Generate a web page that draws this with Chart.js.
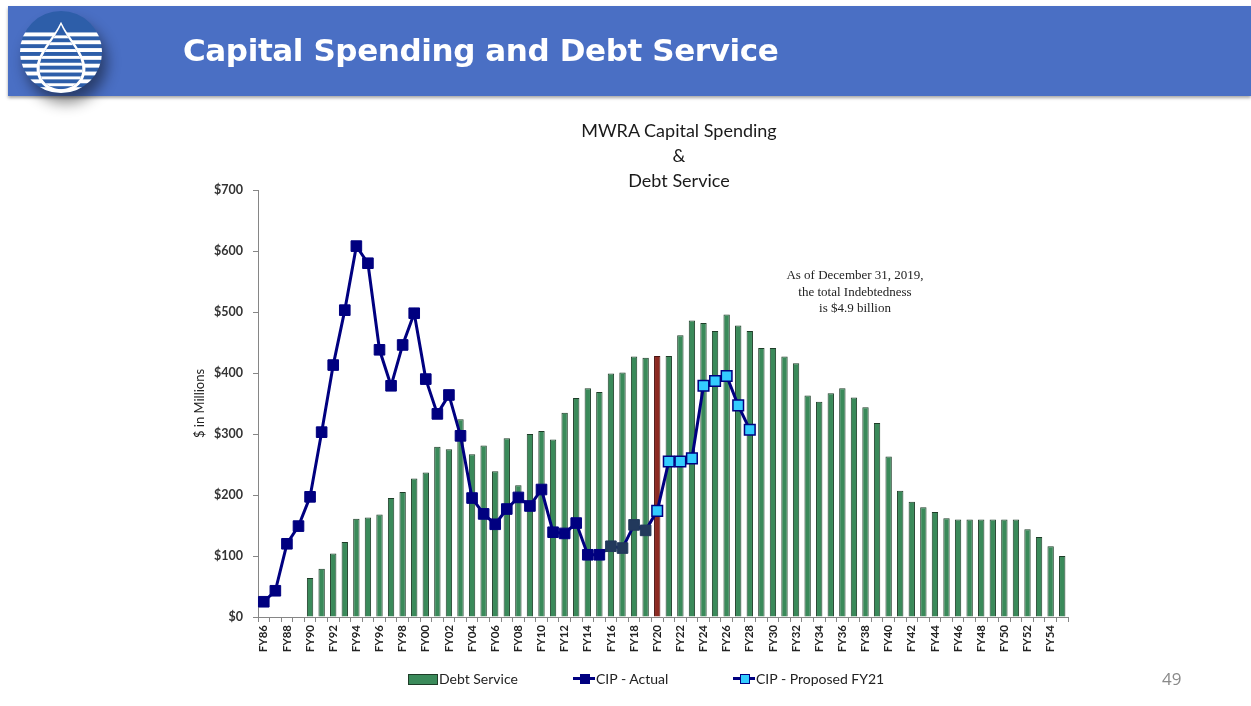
<!DOCTYPE html>
<html lang="en">
<head>
<meta charset="UTF-8">
<title>Capital Spending and Debt Service</title>
<style>
body { margin:0; padding:0; background:#fff; font-family: Lato, Arial, sans-serif; overflow:hidden; }
#slide { position:relative; width:1251px; height:706px; }
#chart { position:absolute; left:0; top:0; }
header { position:absolute; left:8px; top:6px; width:1243px; height:90px; background:#4a6fc4; box-shadow:0 2px 3px rgba(0,0,0,0.35); }
header h1 { position:absolute; left:175px; top:0; margin:0; color:#fff; font:bold 31px "DejaVu Sans", Verdana, sans-serif; line-height:88px; letter-spacing:-0.4px; }
#logo { position:absolute; left:10px; top:3px; filter: drop-shadow(5px 10px 7px rgba(0,0,0,0.45)); }
.ctitle { position:absolute; left:569px; width:220px; top:118px; text-align:center; font-size:18px; line-height:25px; color:#1a1a1a; }
.note { position:absolute; left:765px; width:180px; top:267px; text-align:center; font:13px "Liberation Serif", "Times New Roman", serif; line-height:16.5px; color:#222; }
.legend { position:absolute; top:670px; font-size:14px; color:#222; line-height:18px; }
.swatch { position:absolute; top:4px; left:0; width:28px; height:9px; background:#3a8a5a; border:1px solid #1e3d28; }
.lline { position:absolute; top:7px; left:0; width:22px; height:3px; background:#000080; }
.lmark { position:absolute; top:4px; width:8px; height:8px; border:1px solid #000080; }
.pagenum { position:absolute; left:1162px; top:667px; font:17px "Open Sans", sans-serif; color:#8a8a8a; }
</style>
</head>
<body>
<div id="slide">
<canvas id="chart" width="1251" height="706"></canvas>
<header>
  <svg id="logo" width="86" height="86" viewBox="0 0 88 88">
    <defs>
      <clipPath id="circ"><circle cx="44" cy="44" r="42"/></clipPath>
      <clipPath id="drop"><path d="M44 16 C51 32 66 46 66 61 C66 74 56 82 44 82 C32 82 22 74 22 61 C22 46 37 32 44 16 Z"/></clipPath>
    </defs>
    <g clip-path="url(#circ)">
      <rect x="0" y="0" width="88" height="88" fill="#2d5ea9"/>
      <rect x="0" y="24" width="88" height="4" fill="#fff"/>
      <rect x="0" y="32" width="88" height="4" fill="#fff"/>
      <rect x="0" y="40" width="88" height="4" fill="#fff"/>
      <rect x="0" y="48" width="88" height="4" fill="#fff"/>
      <rect x="0" y="56" width="88" height="4" fill="#fff"/>
      <rect x="0" y="64" width="88" height="4" fill="#fff"/>
      <rect x="0" y="72" width="88" height="4" fill="#fff"/>
      <rect x="0" y="80" width="88" height="10" fill="#fff"/>
      <path d="M44 13 C52 30 69 45 69 61 C69 76 57 85 44 85 C31 85 19 76 19 61 C19 45 36 30 44 13 Z" fill="#fff"/>
      <g clip-path="url(#drop)">
        <rect x="0" y="0" width="88" height="88" fill="#2d5ea9"/>
        <rect x="0" y="27" width="88" height="3" fill="#fff"/>
        <rect x="0" y="34" width="88" height="3" fill="#fff"/>
        <rect x="0" y="41" width="88" height="3" fill="#fff"/>
        <rect x="0" y="48" width="88" height="3" fill="#fff"/>
        <rect x="0" y="55" width="88" height="3" fill="#fff"/>
        <rect x="0" y="62" width="88" height="3" fill="#fff"/>
        <rect x="0" y="69" width="88" height="3" fill="#fff"/>
        <rect x="0" y="76" width="88" height="3" fill="#fff"/>
      </g>
    </g>
  </svg>
  <h1>Capital Spending and Debt Service</h1>
</header>
<div class="ctitle">MWRA Capital Spending<br>&amp;<br>Debt Service</div>
<div class="note">As of December 31, 2019,<br>the total Indebtedness<br>is $4.9 billion</div>
<div class="legend" style="left:408px;"><span class="swatch"></span><span style="padding-left:31px;">Debt Service</span></div>
<div class="legend" style="left:573px;"><span class="lline"></span><span class="lmark" style="left:7px;background:#000080;"></span><span style="padding-left:23px;">CIP - Actual</span></div>
<div class="legend" style="left:733px;"><span class="lline"></span><span class="lmark" style="left:7px;background:#33ccff;"></span><span style="padding-left:23px;">CIP - Proposed FY21</span></div>
<div class="pagenum">49</div>
</div>
<script src="https://cdn.jsdelivr.net/npm/chart.js"></script>
<script>
// fiscal years shown on the x axis
const years = ['FY86','FY87','FY88','FY89','FY90','FY91','FY92','FY93','FY94','FY95',
  'FY96','FY97','FY98','FY99','FY00','FY01','FY02','FY03','FY04','FY05',
  'FY06','FY07','FY08','FY09','FY10','FY11','FY12','FY13','FY14','FY15',
  'FY16','FY17','FY18','FY19','FY20','FY21','FY22','FY23','FY24','FY25',
  'FY26','FY27','FY28','FY29','FY30','FY31','FY32','FY33','FY34','FY35',
  'FY36','FY37','FY38','FY39','FY40','FY41','FY42','FY43','FY44','FY45',
  'FY46','FY47','FY48','FY49','FY50','FY51','FY52','FY53','FY54','FY55'];

// $ millions
const debtService = [null,null,null,null,
  64,79,104,123,161,163,168,195,205,227,
  237,279,275,324,267,281,239,293,216,300,
  305,291,335,359,375,369,399,401,427,425,
  428,428,462,486,482,469,496,478,469,441,
  441,427,416,363,353,367,375,360,344,318,
  263,207,189,180,172,162,160,160,160,160,
  160,160,144,131,116,100];

const cipActual = [25,43,120,149,197,303,413,503,608,580,
  438,379,446,498,390,333,364,297,195,169,
  152,177,196,182,209,139,137,154,102,102,
  116,113,151,142];

// starts at FY19 so the line joins the actual series
const cipProposed = [null,null,null,null,null,null,null,null,null,null,
  null,null,null,null,null,null,null,null,null,null,
  null,null,null,null,null,null,null,null,null,null,
  null,null,null,142,174,255,255,260,379,387,395,347,307];

const yTicks = [0,100,200,300,400,500,600,700];

const green = '#3a8a5a', red = '#8c2a22', navy = '#000080', slate = '#22395c', cyan = '#33ccff';

const ctx = document.getElementById('chart').getContext('2d');
new Chart(ctx, {
  data: {
    labels: years,
    datasets: [
      { type:'line', label:'CIP - Actual', data: cipActual, order:1,
        borderColor: navy, borderWidth:3, tension:0,
        pointStyle:'rect', pointRadius:7.5, pointBorderWidth:1,
        pointBackgroundColor: cipActual.map((v,i) => i >= 30 ? slate : navy),
        pointBorderColor: cipActual.map((v,i) => i >= 30 ? slate : navy) },
      { type:'line', label:'CIP - Proposed FY21', data: cipProposed, order:2,
        borderColor: navy, borderWidth:3, tension:0,
        pointStyle:'rect', pointRadius: cipProposed.map((v,i) => years[i] === 'FY19' ? 0 : 7.5),
        pointBorderWidth:1.5, pointBorderColor: navy, pointBackgroundColor: cyan },
      { type:'bar', label:'Debt Service', data: debtService, order:3,
        backgroundColor: years.map(y => y === 'FY20' ? red : green),
        borderColor: years.map(y => y === 'FY20' ? '#4a1210' : '#1e3d28'),
        borderWidth:1, barPercentage:0.55, categoryPercentage:1 }
    ]
  },
  options: {
    responsive:false, animation:false,
    layout: { padding: { left:190, top:190, right:183, bottom:44 } },
    plugins: { legend:{ display:false }, title:{ display:false }, tooltip:{ enabled:false } },
    scales: {
      x: {
        afterFit: s => { s.height = 45; },
        grid: { drawOnChartArea:false, tickLength:5, color:'#868686', offset:true },
        border: { color:'#868686' },
        ticks: { autoSkip:false, maxRotation:90, minRotation:90, padding:3,
          font:{ family:'Lato', weight:'bold', size:11.5 }, color:'#222',
          callback: function(v, i) { return i % 2 === 0 ? years[i] : ''; } }
      },
      y: {
        min:0, max:700,
        afterFit: s => { s.width = 68; },
        afterBuildTicks: s => { s.ticks = yTicks.map(v => ({ value:v })); },
        grid: { drawOnChartArea:false, tickLength:5, color:'#868686' },
        border: { color:'#868686' },
        title: { display:true, text:'$ in Millions', font:{ family:'Lato', size:13 }, color:'#222', padding:{ top:2, bottom:2 } },
        ticks: { padding:10, font:{ family:'Lato', weight:'bold', size:12.5 }, color:'#333',
          callback: v => '$' + v }
      }
    }
  }
});
</script>
</body>
</html>
